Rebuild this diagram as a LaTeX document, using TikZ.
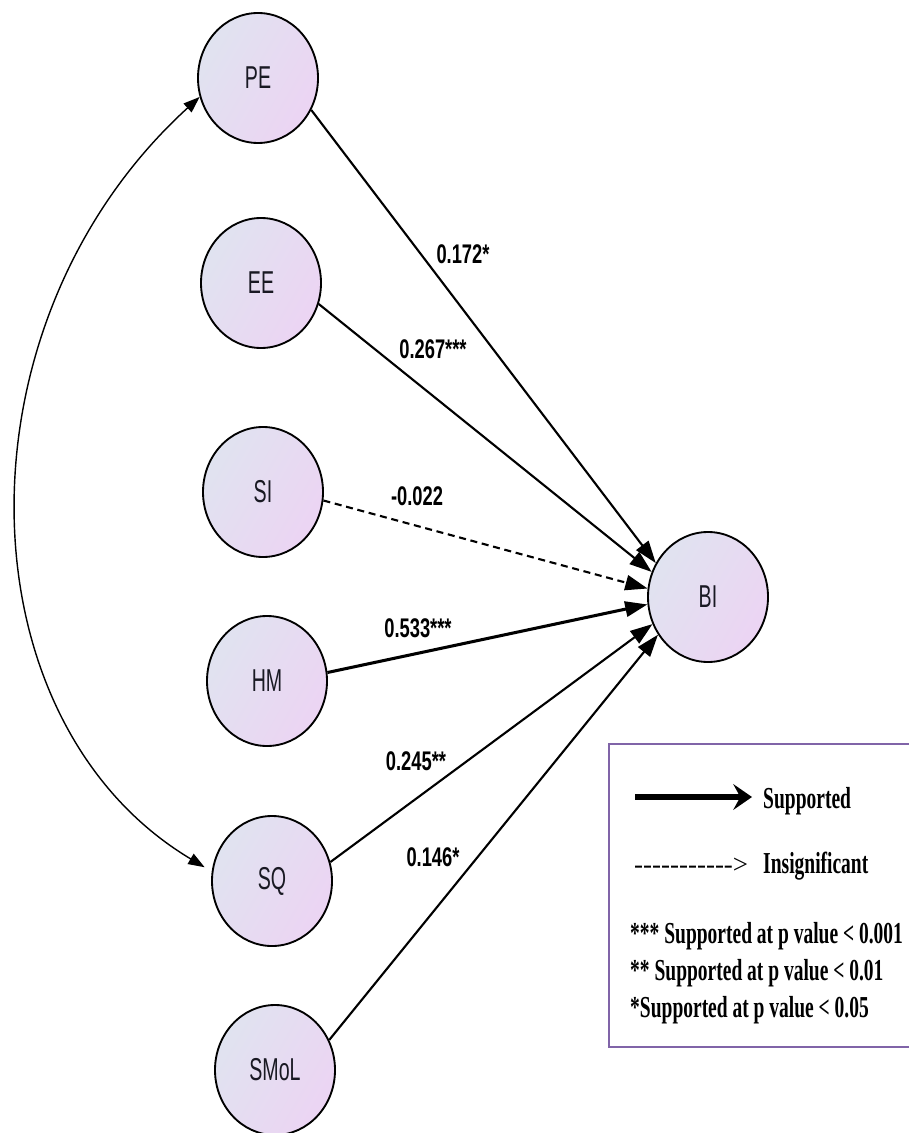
\documentclass[tikz,border=0pt]{standalone}
\usepackage{fontspec}
\usetikzlibrary{arrows.meta,shapes.geometric}
\newfontfamily\nodefont[FakeStretch=0.62]{Liberation Sans}
\newfontfamily\coeffont[FakeStretch=0.68]{Liberation Sans}
\newfontfamily\legendfont[FakeStretch=0.64]{Liberation Serif}
\newfontfamily\dashfont{Liberation Serif}
\definecolor{fillA}{RGB}{224,227,240}
\definecolor{fillB}{RGB}{236,212,243}
\definecolor{legendframe}{RGB}{128,100,168}
\definecolor{labelink}{RGB}{25,25,35}

\begin{document}
\begin{tikzpicture}[x=0.03cm,y=-0.03cm,
  construct/.style={ellipse, draw=black, line width=1.6pt,
    minimum width=3.6cm, minimum height=3.9cm, inner sep=0pt,
    left color=fillA, right color=fillB, shading angle=60,
    font=\nodefont\fontsize{27}{30}\selectfont, text=labelink},
  effect/.style={draw, line width=1.8pt, -{Triangle[length=19pt,width=13pt]}},
  strong/.style={effect, line width=2.6pt},
  weak/.style={effect, dash pattern=on 6pt off 4pt},
  coef/.style={font=\coeffont\bfseries\fontsize{23}{26}\selectfont, inner sep=0pt},
  legtext/.style={font=\legendfont\bfseries\fontsize{26}{29}\selectfont,
    inner sep=0pt, anchor=base west},
]
\useasboundingbox (0,0) rectangle (909,1133);

% latent constructs
\node[construct] (PE)   at (258,78)   {PE};
\node[construct] (EE)   at (261,283)  {EE};
\node[construct] (SI)   at (263,492)  {SI};
\node[construct] (HM)   at (267,681)  {HM};
\node[construct] (SQ)   at (272,881)  {SQ};
\node[construct] (SMoL) at (275,1070) {SMoL};
\node[construct] (BI)   at (708,597)  {BI};

% structural paths
\draw[effect] (PE.-31)  -- (BI.147);
\draw[effect] (EE.-20)  -- (BI.156);
\draw[weak]   (SI.-8)   -- (BI.172);
\draw[strong] (HM.8)    -- (BI.187);
\draw[effect] (SQ.18)   -- (BI.206);
\draw[effect] (SMoL.29) -- (BI.217);

% path coefficients
\node[coef] (cPE)   at (463,254) {0.172*};
\node[coef] (cEE)   at (433,349) {0.267***};
\node[coef] (cSI)   at (417,496) {-0.022};
\node[coef] (cHM)   at (418,628) {0.533***};
\node[coef] (cSQ)   at (416,761) {0.245**};
\node[coef] (cSMoL) at (433,857) {0.146*};

% covariance between PE and SQ
\draw[line width=1.2pt,
      {Triangle[length=14pt,width=10pt]}-{Triangle[length=14pt,width=10pt]},
      shorten <=7pt]
  (SQ.171) .. controls +(-251,-150) and +(-249,227) .. (PE.198);

% legend
\node[draw=legendframe, line width=2.2pt, fill=white,
      minimum width=9.3cm, minimum height=9.09cm, inner sep=0pt]
  (legend) at (764,895.5) {};
\coordinate (supS) at (635,797);
\coordinate (supE) at (752,797);
\draw[line width=4.5pt, -{Stealth[length=16pt,width=22pt,inset=6pt]}] (supS) -- (supE);
\node[legtext] (supTxt) at (763,808) {Supported};
\node[inner sep=0pt, anchor=base west, font=\dashfont\fontsize{23}{26}\selectfont]
  (insArrow) at (634,873) {-{}-{}-{}-{}-{}-{}-{}-{}-{}-{}-{}>};
\node[legtext] (insTxt) at (763,873) {Insignificant};
\node[legtext] (p001) at (630,943)  {*** Supported at p value < 0.001};
\node[legtext] (p01)  at (630,980)  {** Supported at p value < 0.01};
\node[legtext] (p05)  at (630,1017) {*Supported at p value < 0.05};
\end{tikzpicture}
\end{document}
